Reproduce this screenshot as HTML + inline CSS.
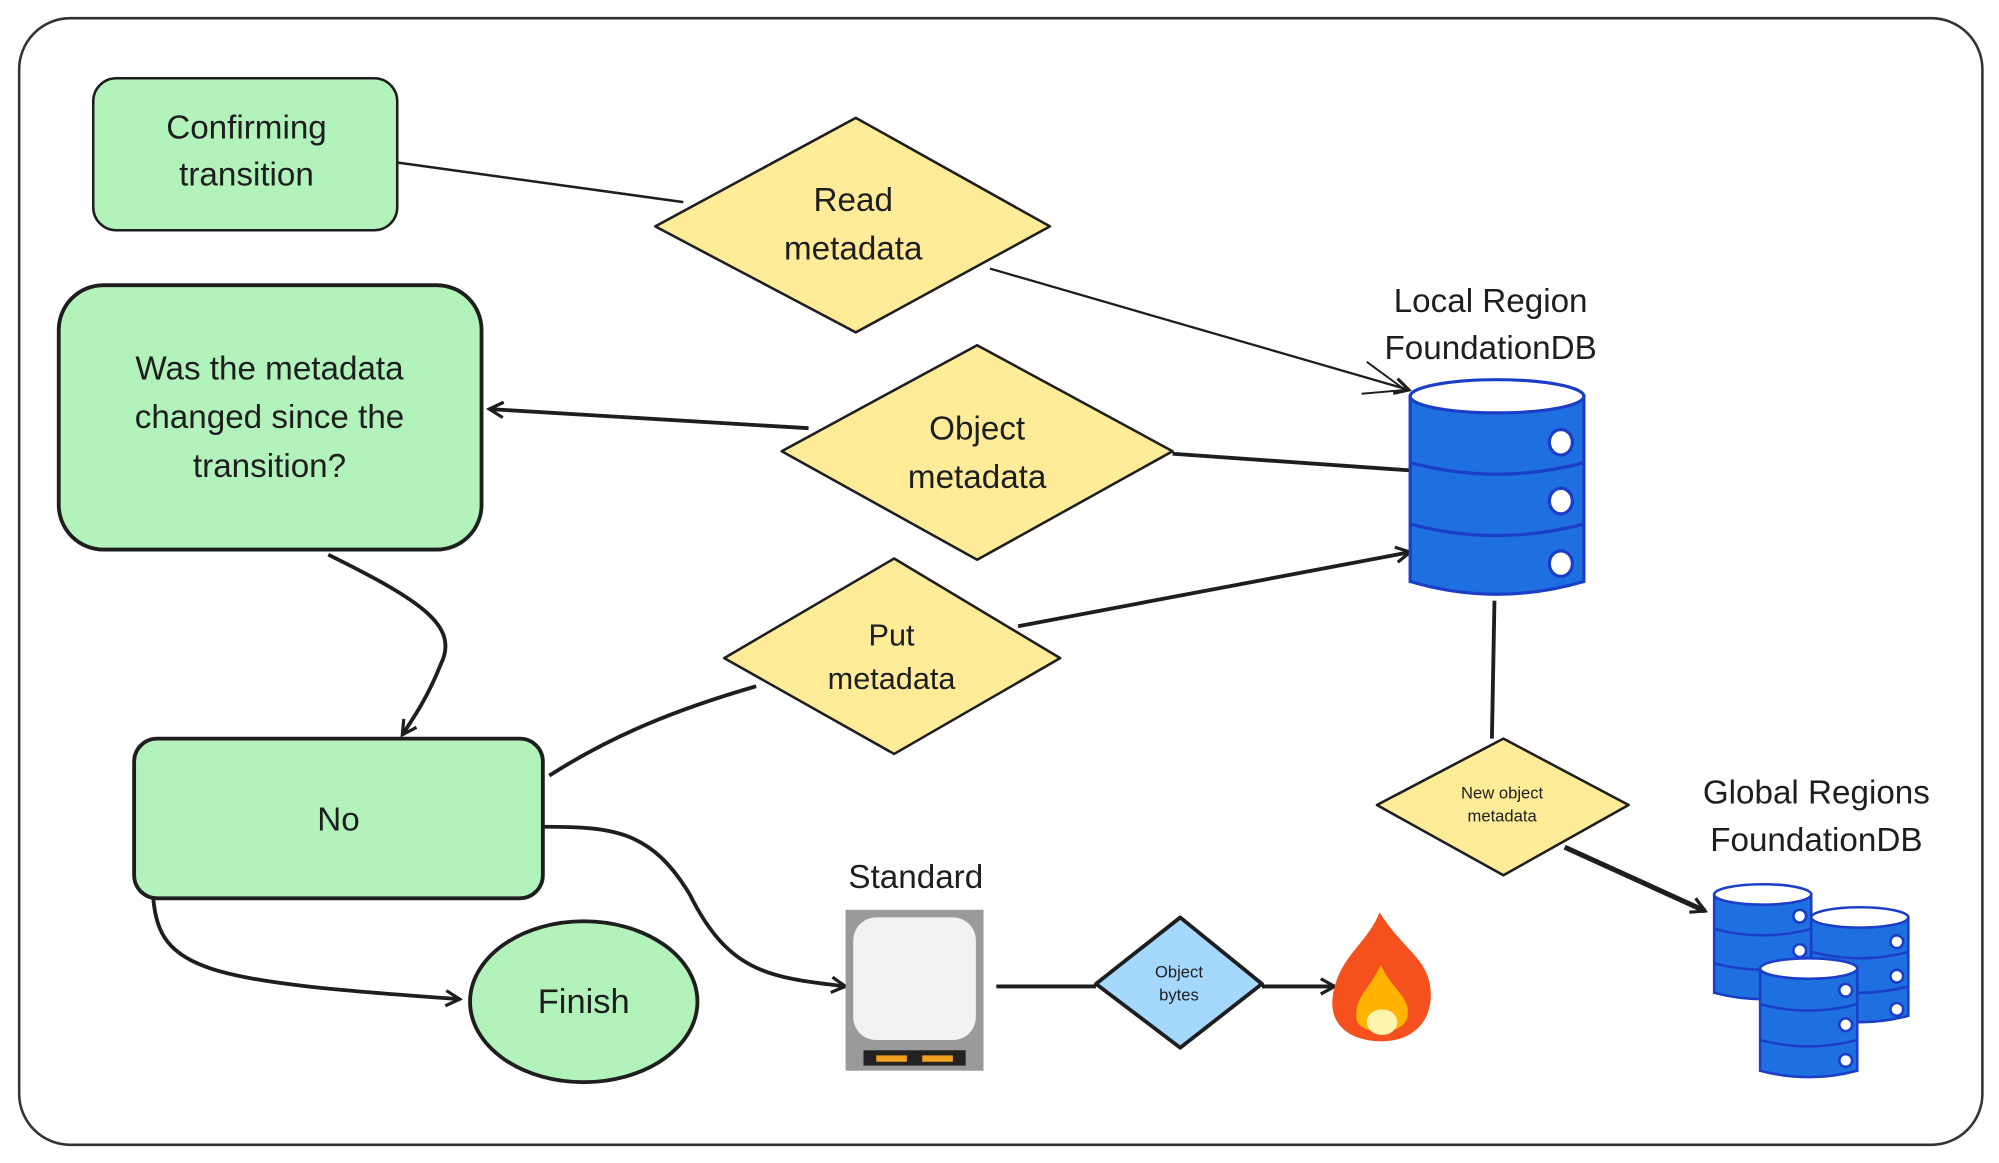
<!DOCTYPE html>
<html><head><meta charset="utf-8"><style>
html,body{margin:0;padding:0;background:#fff;}
svg{display:block;}
text{font-family:"Liberation Sans",sans-serif;fill:#1e1e1e;text-anchor:middle;}
</style></head><body>
<svg width="1999" height="1163" viewBox="0 0 1565 910" xmlns="http://www.w3.org/2000/svg">
<defs>
<marker id="ah" markerWidth="14" markerHeight="14" refX="12" refY="7" orient="auto" markerUnits="userSpaceOnUse">
<path d="M1,1 L12,7 L1,13" fill="none" stroke="#1e1e1e" stroke-width="2.5"/>
</marker>
</defs>
<rect x="15" y="14" width="1537" height="882" rx="40" fill="#fff" stroke="#333" stroke-width="2"/>

<!-- connectors -->
<g fill="none" stroke="#1e1e1e" stroke-width="2">
<path d="M311,127 L535,158"/>
<path d="M775,210 L1103,305" marker-end="url(#ah)" stroke-width="1.8"/>
<path d="M633,335 L383,320" marker-end="url(#ah)" stroke-width="3"/>
<path d="M918,355 L1104,368" stroke-width="3"/>
<path d="M797,490 L1104,432" marker-end="url(#ah)" stroke-width="3"/>
<path d="M592,537 C530,555 480,575 430,607" stroke-width="3"/>
<path d="M257,434 C330,470 360,490 345,520 C335,545 325,560 315,575" marker-end="url(#ah)" stroke-width="3"/>
<path d="M426,647 C480,647 510,650 540,700 C570,760 600,765 662,772" marker-end="url(#ah)" stroke-width="3"/>
<path d="M120,703 C125,760 160,768 360,782" marker-end="url(#ah)" stroke-width="3"/>
<path d="M780,772 L858,772" stroke-width="3"/>
<path d="M988,772 L1045,772" marker-end="url(#ah)" stroke-width="3"/>
<path d="M1170,470 L1168,578" stroke-width="3"/>
<path d="M1225,663 L1335,713" marker-end="url(#ah)" stroke-width="4"/>
</g>

<!-- green boxes -->
<g fill="#b2f2bb" stroke="#1e1e1e">
<rect x="73" y="61" width="238" height="119" rx="18" stroke-width="2"/>
<rect x="46" y="223" width="331" height="207" rx="35" stroke-width="3"/>
<rect x="105" y="578" width="320" height="125" rx="18" stroke-width="3"/>
<ellipse cx="457" cy="784" rx="89" ry="63" stroke-width="3"/>
</g>

<!-- diamonds -->
<g stroke="#1e1e1e" stroke-width="2" stroke-linejoin="round">
<path d="M513,177 L670,92 L822,177 L670,260 Z" fill="#ffec99"/>
<path d="M612,353 L765,270 L918,353 L765,438 Z" fill="#ffec99"/>
<path d="M567,515 L700,437 L830,515 L700,590 Z" fill="#ffec99"/>
<path d="M1078,630 L1177,578 L1275,630 L1177,685 Z" fill="#ffec99"/>
<path d="M858,770 L924,718 L988,770 L924,820 Z" fill="#a5d8ff" stroke-width="3"/>
</g>

<!-- texts -->
<text x="193" y="108" font-size="26">Confirming</text>
<text x="193" y="145" font-size="26">transition</text>
<text x="211" y="297" font-size="26">Was the metadata</text>
<text x="211" y="335" font-size="26">changed since the</text>
<text x="211" y="373" font-size="26">transition?</text>
<text x="265" y="650" font-size="26">No</text>
<text x="457" y="793" font-size="27">Finish</text>
<text x="668" y="165" font-size="26">Read</text>
<text x="668" y="203" font-size="26">metadata</text>
<text x="765" y="344" font-size="26">Object</text>
<text x="765" y="382" font-size="26">metadata</text>
<text x="698" y="505" font-size="24">Put</text>
<text x="698" y="539" font-size="24">metadata</text>
<text x="1176" y="625" font-size="13">New object</text>
<text x="1176" y="643" font-size="13">metadata</text>
<text x="923" y="765" font-size="13">Object</text>
<text x="923" y="783" font-size="13">bytes</text>
<text x="1167" y="244" font-size="26">Local Region</text>
<text x="1167" y="281" font-size="26">FoundationDB</text>
<text x="1422" y="629" font-size="26">Global Regions</text>
<text x="1422" y="666" font-size="26">FoundationDB</text>
<text x="717" y="695" font-size="26">Standard</text>

<!-- local DB -->
<g stroke="#1a3ec8" stroke-width="2.5" fill="#1e6fe0">
<path d="M1104,310 L1104,455 Q1172,475 1240,455 L1240,310 Z"/>
<path d="M1104,362 Q1172,380 1240,362" fill="none"/>
<path d="M1104,410 Q1172,428 1240,410" fill="none"/>
<ellipse cx="1172" cy="310" rx="68" ry="13" fill="#fff"/>
<ellipse cx="1222" cy="346" rx="9" ry="10" fill="#fff"/>
<ellipse cx="1222" cy="392" rx="9" ry="10" fill="#fff"/>
<ellipse cx="1222" cy="441" rx="9" ry="10" fill="#fff"/>
</g>
<path d="M1070,283 L1100,305 M1066,308 L1100,305" stroke="#1e1e1e" stroke-width="1.5" fill="none"/>

<!-- global DBs -->
<g stroke="#1a3ec8" stroke-width="2" fill="#1e6fe0">
<g transform="translate(1342,692)">
<path d="M0,8 L0,85 Q38,95 76,85 L76,8 Z"/><path d="M0,35 Q38,45 76,35 M0,62 Q38,72 76,62" fill="none"/>
<ellipse cx="38" cy="8" rx="38" ry="8" fill="#fff"/>
<circle cx="67" cy="25" r="5" fill="#fff"/><circle cx="67" cy="52" r="5" fill="#fff"/><circle cx="67" cy="78" r="5" fill="#fff"/>
</g>
<g transform="translate(1418,710)">
<path d="M0,8 L0,85 Q38,95 76,85 L76,8 Z"/><path d="M0,35 Q38,45 76,35 M0,62 Q38,72 76,62" fill="none"/>
<ellipse cx="38" cy="8" rx="38" ry="8" fill="#fff"/>
<circle cx="67" cy="27" r="5" fill="#fff"/><circle cx="67" cy="54" r="5" fill="#fff"/><circle cx="67" cy="80" r="5" fill="#fff"/>
</g>
<g transform="translate(1378,750)">
<path d="M0,8 L0,88 Q38,98 76,88 L76,8 Z"/><path d="M0,36 Q38,46 76,36 M0,64 Q38,74 76,64" fill="none"/>
<ellipse cx="38" cy="8" rx="38" ry="8" fill="#fff"/>
<circle cx="67" cy="25" r="5" fill="#fff"/><circle cx="67" cy="52" r="5" fill="#fff"/><circle cx="67" cy="80" r="5" fill="#fff"/>
</g>
</g>

<!-- hard drive -->
<rect x="662" y="712" width="108" height="126" fill="#9a9a9a"/>
<rect x="668" y="718" width="96" height="96" rx="18" fill="#f2f2f2"/>
<rect x="676" y="822" width="80" height="12" fill="#222"/>
<rect x="686" y="826" width="24" height="5" fill="#f0a020"/>
<rect x="722" y="826" width="24" height="5" fill="#f0a020"/>

<!-- fire -->
<path d="M1080,714 C1070,740 1045,750 1043,785 C1043,805 1060,815 1082,815 C1105,815 1122,800 1120,775 C1118,750 1100,745 1080,714 Z" fill="#f4511e"/>
<path d="M1081,755 C1072,775 1060,780 1062,798 C1064,810 1100,812 1102,795 C1104,780 1090,775 1081,755 Z" fill="#ffb300"/>
<ellipse cx="1082" cy="800" rx="12" ry="10" fill="#fff3b0"/>
</svg>
</body></html>
